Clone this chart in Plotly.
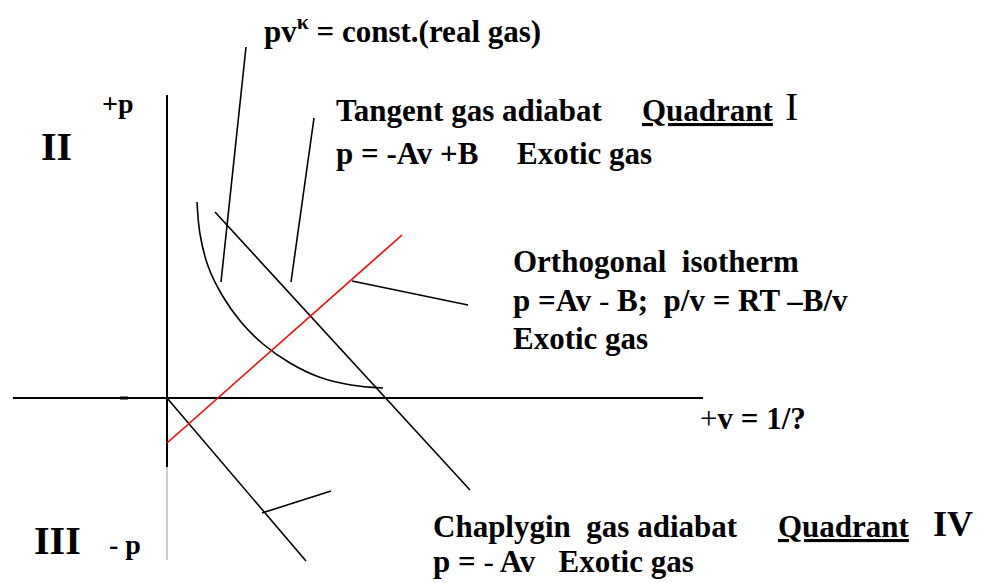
import plotly.graph_objects as go

# coordinates measured from the axis crossing (v to the right, p upwards)
v_axis_v = [-154, 536]
v_axis_p = [0, 0]
p_axis_v = [0, 0]
p_axis_p = [303, -69]
p_axis_low_p = [-69, -162]
axis_tick_v = [-47, -39]

adiabat_v = [30, 33, 41, 55, 74, 96, 123, 152, 184, 216]
adiabat_p = [196, 164, 132, 103, 76, 54, 35, 21, 13, 10]

tangent_v = [48, 303]
tangent_p = [186, -92]

chaplygin_v = [0, 139]
chaplygin_p = [0, -163]

isotherm_v = [0, 235]
isotherm_p = [-45, 163]

leaders_v = [79, 54, None, 147, 124, None, 185, 301, None, 95, 164]
leaders_p = [351, 116, None, 280, 116, None, 117, 93, None, -115, -93]

# page pixel of the axis crossing; the page body adds an 8px margin
ORIGIN_X, ORIGIN_Y = 167, 398
PAGE_MARGIN = 8
WIDTH, HEIGHT = 982 - PAGE_MARGIN, 583 - PAGE_MARGIN
SERIF = "Liberation Serif"


def line(x, y, color="black", width=1.6, shape="linear"):
    return go.Scatter(x=x, y=y, mode="lines", line=dict(color=color, width=width, shape=shape),
                      hoverinfo="skip", showlegend=False)


fig = go.Figure()
fig.add_trace(line(v_axis_v, v_axis_p, width=2))
fig.add_trace(line(p_axis_v, p_axis_p, width=2))
fig.add_trace(line(p_axis_v, p_axis_low_p, color="#9a9a9a", width=1))
fig.add_trace(line(axis_tick_v, v_axis_p, width=3))
fig.add_trace(line(adiabat_v, adiabat_p, width=1.6, shape="spline"))
fig.add_trace(line(tangent_v, tangent_p, width=1.6))
fig.add_trace(line(chaplygin_v, chaplygin_p, width=1.6))
fig.add_trace(line(isotherm_v, isotherm_p, color="red", width=1.6))
fig.add_trace(line(leaders_v, leaders_p, width=1.6))


def label(text, px, py, size=31, bold=True):
    if bold:
        text = f"<b>{text}</b>"
    fig.add_annotation(x=px - ORIGIN_X, y=ORIGIN_Y - py, text=text, showarrow=False,
                       xanchor="left", yanchor="middle",
                       font=dict(family=SERIF, size=size, color="black"))


NORMAL = "<span style='font-weight:normal'>{}</span>"

label("pv<sup>κ</sup> = const.(real gas)", 262, 29)
label("+p", 100, 103, size=28)
label("II", 39, 146, size=40)
label("Tangent gas adiabat", 334, 110)
label("<u>Quadrant</u>", 640, 110)
label("I", 783, 106, size=40, bold=False)
label("p = -Av +B", 334, 153)
label("Exotic gas", 515, 153)
label("Orthogonal  isotherm", 511, 261)
label("p =Av " + NORMAL.format("-") + " B;  p/v = RT –B/v", 511, 300)
label("Exotic gas", 511, 338)
label(NORMAL.format("+") + "v = 1/?", 698, 418)
label("Chaplygin  gas adiabat", 431, 526)
label("<u>Quadrant</u>", 776, 526)
label("IV", 931, 524, size=36)
label("p = " + NORMAL.format("-") + " Av   Exotic gas", 431, 561)
label("III", 32, 540, size=40)
label("- p", 107, 544, size=28)

fig.update_layout(
    width=WIDTH, height=HEIGHT,
    margin=dict(l=0, r=0, t=0, b=0),
    paper_bgcolor="white", plot_bgcolor="white",
    xaxis=dict(range=[PAGE_MARGIN - ORIGIN_X, PAGE_MARGIN - ORIGIN_X + WIDTH],
               visible=False, fixedrange=True),
    yaxis=dict(range=[ORIGIN_Y - PAGE_MARGIN - HEIGHT, ORIGIN_Y - PAGE_MARGIN],
               visible=False, fixedrange=True),
    showlegend=False,
)

fig.write_html("out.html")
